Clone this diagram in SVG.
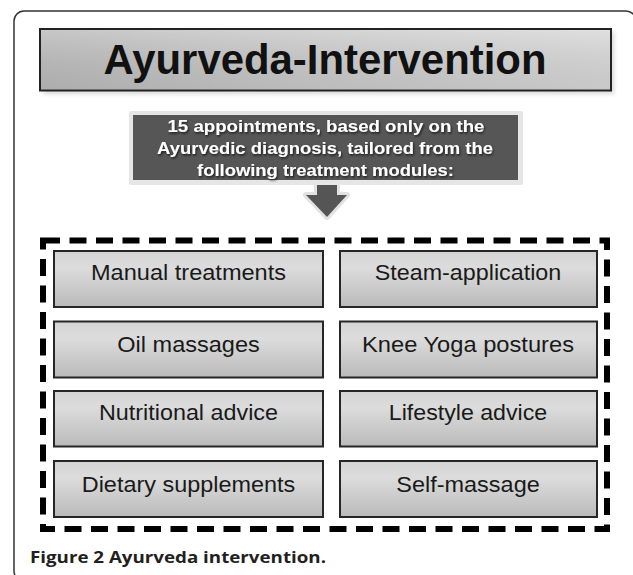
<svg xmlns="http://www.w3.org/2000/svg" width="633" height="575" viewBox="0 0 633 575">
<defs>
<linearGradient id="gTitle" x1="0" y1="0" x2="1" y2="0">
<stop offset="0" stop-color="#bdbdbd"/>
<stop offset="0.5" stop-color="#cdcdcd"/>
<stop offset="1" stop-color="#dadada"/>
</linearGradient>
<linearGradient id="gTitleV" x1="0" y1="0" x2="0" y2="1">
<stop offset="0" stop-color="#ffffff" stop-opacity="0.15"/>
<stop offset="1" stop-color="#000000" stop-opacity="0.08"/>
</linearGradient>
<linearGradient id="gBox" x1="0" y1="0" x2="0" y2="1">
<stop offset="0" stop-color="#d4d4d4"/>
<stop offset="0.3" stop-color="#dcdcdc"/>
<stop offset="1" stop-color="#bababa"/>
</linearGradient>
<filter id="shadow" x="-10%" y="-30%" width="120%" height="160%">
<feDropShadow dx="1" dy="1.5" stdDeviation="0.8" flood-color="#000" flood-opacity="0.7"/>
</filter>
<filter id="soft" x="-5%" y="-20%" width="110%" height="140%">
<feGaussianBlur stdDeviation="2"/>
</filter>
</defs>
<style>
.frame{fill:none;stroke:#333;stroke-width:1.5}
.title{font-family:"Liberation Sans",Arial,sans-serif;font-weight:bold;font-size:42px;fill:#111;text-anchor:middle}
.dark{font-family:"Liberation Sans",Arial,sans-serif;font-weight:bold;font-size:16.5px;fill:#fff;text-anchor:middle}
.box{fill:url(#gBox);stroke:#262626;stroke-width:2}
.lbl{font-family:"Liberation Sans",Arial,sans-serif;font-size:22px;fill:#1a1a1a;text-anchor:middle}
.cap{font-family:"Open Sans","Liberation Sans",sans-serif;font-weight:bold;font-size:16px;fill:#231f20}
</style>
<rect width="633" height="575" fill="#fff"/>
<rect class="frame" x="14" y="11" width="622" height="570" rx="10"/>

<g id="title">
<rect x="43" y="32" width="571" height="62" fill="#d8d8d8" filter="url(#soft)"/>
<rect x="40" y="29" width="571" height="61.5" fill="url(#gTitle)" stroke="#222" stroke-width="2"/>
<rect x="41" y="30" width="569" height="59.5" fill="url(#gTitleV)"/>
<text class="title" x="325" y="74" textLength="443" lengthAdjust="spacingAndGlyphs">Ayurveda-Intervention</text>
</g>

<g id="connectors">
<polygon points="317,178 337,178 337,195 347,195 327,217 306,195 317,195" fill="#e2e2e2" stroke="#e2e2e2" stroke-width="6" stroke-linejoin="round"/>
<polygon points="317,178 337,178 337,195 347,195 327,217 306,195 317,195" fill="#555"/>
</g>

<g id="appointments">
<rect x="129" y="111" width="394" height="74" rx="2" fill="#e6e6e6"/>
<rect x="133" y="115" width="385" height="65" fill="#565656"/>
<g filter="url(#shadow)">
<text class="dark" x="326" y="132" textLength="317" lengthAdjust="spacingAndGlyphs">15 appointments, based  only on the</text>
<text class="dark" x="325" y="154" textLength="336" lengthAdjust="spacingAndGlyphs">Ayurvedic diagnosis, tailored from the</text>
<text class="dark" x="325.5" y="175.5" textLength="257" lengthAdjust="spacingAndGlyphs">following treatment modules:</text>
</g>
</g>

<g id="modules">
<rect x="43" y="240.5" width="564" height="288.5" fill="none" stroke="#000" stroke-width="6" stroke-dasharray="17 9.5"/>
</g>

<g id="manual-treatments">
<rect class="box" x="54" y="251" width="269" height="56"/>
<text class="lbl" x="188.5" y="280" textLength="195" lengthAdjust="spacingAndGlyphs">Manual treatments</text>
</g>
<g id="steam-application">
<rect class="box" x="340" y="251" width="257" height="56"/>
<text class="lbl" x="468" y="280" textLength="186.5" lengthAdjust="spacingAndGlyphs">Steam-application</text>
</g>
<g id="oil-massages">
<rect class="box" x="54" y="321.5" width="269" height="56"/>
<text class="lbl" x="188.5" y="351.5" textLength="142.5" lengthAdjust="spacingAndGlyphs">Oil massages</text>
</g>
<g id="knee-yoga-postures">
<rect class="box" x="340" y="321.5" width="257" height="56"/>
<text class="lbl" x="468" y="351.5" textLength="212" lengthAdjust="spacingAndGlyphs">Knee Yoga postures</text>
</g>
<g id="nutritional-advice">
<rect class="box" x="54" y="391" width="269" height="55.5"/>
<text class="lbl" x="188.5" y="420" textLength="179" lengthAdjust="spacingAndGlyphs">Nutritional  advice</text>
</g>
<g id="lifestyle-advice">
<rect class="box" x="340" y="391" width="257" height="55.5"/>
<text class="lbl" x="468" y="420" textLength="158.5" lengthAdjust="spacingAndGlyphs">Lifestyle advice</text>
</g>
<g id="dietary-supplements">
<rect class="box" x="54" y="461" width="269" height="56"/>
<text class="lbl" x="188.5" y="491.5" textLength="213.5" lengthAdjust="spacingAndGlyphs">Dietary supplements</text>
</g>
<g id="self-massage">
<rect class="box" x="340" y="461" width="257" height="56"/>
<text class="lbl" x="468" y="491.5" textLength="143.5" lengthAdjust="spacingAndGlyphs">Self-massage</text>
</g>

<text class="cap" x="30" y="562.7" textLength="296" lengthAdjust="spacingAndGlyphs">Figure 2 Ayurveda intervention.</text>
</svg>
